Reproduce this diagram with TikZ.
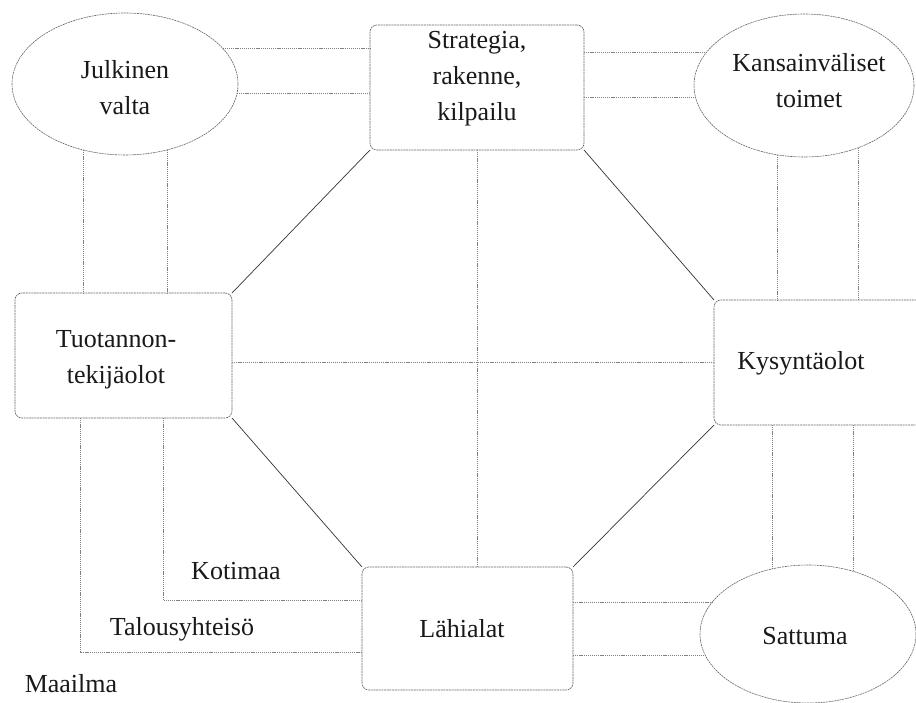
\documentclass[tikz,border=0pt]{standalone}
\usepackage{fontspec}
\setmainfont{Liberation Serif}
\usetikzlibrary{shapes.geometric}
\begin{document}
\begin{tikzpicture}[x=1pt,y=-1pt,
  boxshape/.style={draw=black!60, line width=0.6pt, dash pattern=on 2pt off 0.7pt, rounded corners=7pt, rectangle, outer sep=0pt, inner sep=0pt},
  ellshape/.style={draw=black!60, line width=0.6pt, dash pattern=on 2pt off 0.7pt, ellipse, outer sep=0pt, inner sep=0pt},
  lbl/.style={font=\fontsize{26}{36}\selectfont, align=center, inner sep=0pt, text=black!90},
  link/.style={draw=black!50, line width=0.6pt, dash pattern=on 1.2pt off 0.9pt},
  diag/.style={draw=black!80, line width=0.7pt}]
\useasboundingbox (0,0) rectangle (916,703);
\clip (0,0) rectangle (916,703);

% shapes
\node[ellshape, minimum width=226pt, minimum height=142pt] (jv) at (125,84) {};
\node[boxshape, minimum width=214pt, minimum height=125pt] (strat) at (477,87.5) {};
\node[ellshape, minimum width=220pt, minimum height=143pt] (kv) at (804,85.5) {};
\node[boxshape, minimum width=217pt, minimum height=125pt] (tuo) at (123.5,355.5) {};
\node[boxshape, minimum width=226pt, minimum height=125pt] (kys) at (827,362.5) {};
\node[boxshape, minimum width=211pt, minimum height=123pt] (lah) at (467.5,628.5) {};
\node[ellshape, minimum width=216pt, minimum height=138pt] (sat) at (808,634) {};

% texts
\node[lbl] (jvt) at (125,88) {Julkinen\\valta};
\node[lbl] (stratt) at (477,79) {Strategia,\\rakenne,\\kilpailu};
\node[lbl] (kvt) at (809,81) {Kansainväliset\\toimet};
\node[lbl] (tuot) at (116,360) {Tuotannon-\\tekijäolot};
\node[lbl] (kyst) at (801,363) {Kysyntäolot};
\node[lbl] (laht) at (462,629) {Lähialat};
\node[lbl] (satt) at (805,636) {Sattuma};
\node[lbl] (koti) at (236,571) {Kotimaa};
\node[lbl] (talo) at (182,629) {Talousyhteisö};
\node[lbl] (maa) at (71,684) {Maailma};

% diagonals
\draw[diag] (strat.south west) -- (tuo.north east);
\draw[diag] (strat.south east) -- (kys.north west);
\draw[diag] (tuo.south east) -- (lah.north west);
\draw[diag] (kys.south west) -- (lah.north east);

% cross lines
\draw[link] (strat.south) -- (strat.south |- lah.north);
\draw[link] (tuo.east |- kys.west) -- (kys.west);

% Julkinen valta links
\draw[link] (jv.20.3) -- (jv.20.3 -| strat.west);
\draw[link] (jv.-5) -- (jv.-5 -| strat.west);
\draw[link] (jv.-122.5) -- (jv.-122.5 |- tuo.north);
\draw[link] (jv.-57.5) -- (jv.-57.5 |- tuo.north);

% Kansainvaliset links
\draw[link] (kv.161.4 -| strat.east) -- (kv.161.4);
\draw[link] (kv.186.3 -| strat.east) -- (kv.186.3);
\draw[link] (kv.-111.9) -- (kv.-111.9 |- kys.north);
\draw[link] (kv.-49.3) -- (kv.-49.3 |- kys.north);

% Sattuma links
\draw[link] (kys.south -| sat.119.7) -- (sat.119.7);
\draw[link] (kys.south -| sat.54.3) -- (sat.54.3);
\draw[link] (sat.162.2 -| lah.east) -- (sat.162.2);
\draw[link] (sat.192.7 -| lah.east) -- (sat.192.7);

% nested regions
\coordinate (wcorner) at (80,652);
\coordinate (kcorner) at (163,600);
\draw[link] (tuo.south -| wcorner) -- (wcorner) -- (wcorner -| lah.west);
\draw[link] (tuo.south -| kcorner) -- (kcorner) -- (kcorner -| lah.west);
\end{tikzpicture}
\end{document}
